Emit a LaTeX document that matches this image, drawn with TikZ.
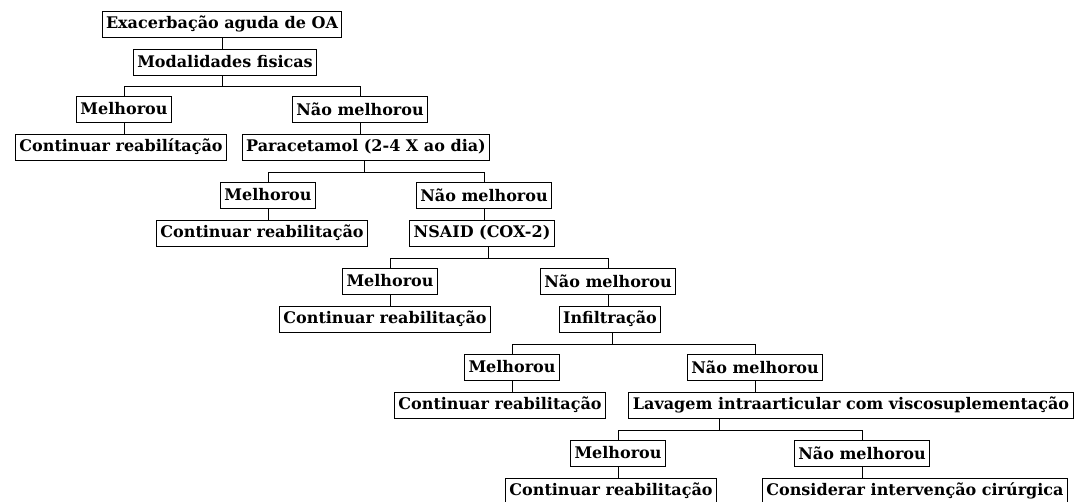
\documentclass[tikz,border=0pt]{standalone}
\usepackage{fontspec}
\setmainfont{DejaVu Serif}
\begin{document}
\begin{tikzpicture}[x=1pt,y=-1pt,line width=1pt]
  \tikzstyle{every node}=[draw,rectangle,inner xsep=4pt,inner ysep=0pt,
    minimum height=26pt,font=\fontsize{16}{18}\selectfont\bfseries]
  \useasboundingbox (0,0) rectangle (1075,501);
  \node (ex) at (222,24) {Exacerbação aguda de OA};
  \node (mod) at (225,62) {Modalidades fisicas};
  \node (m1) at (124,109) {Melhorou};
  \node (n1) at (360,109) {Não melhorou};
  \node (c1) at (121,147) {Continuar reabilítação};
  \node (para) at (366,147) {Paracetamol (2-4 X ao dia)};
  \node (m2) at (268,195) {Melhorou};
  \node (n2) at (484,195) {Não melhorou};
  \node (c2) at (262,233) {Continuar reabilitação};
  \node (nsaid) at (482,233) {NSAID (COX-2)};
  \node (m3) at (390,281) {Melhorou};
  \node (n3) at (608,281) {Não melhorou};
  \node (c3) at (385,319) {Continuar reabilitação};
  \node (inf) at (610,319) {Infiltração};
  \node (m4) at (512,367) {Melhorou};
  \node (n4) at (755,367) {Não melhorou};
  \node (c4) at (500,405) {Continuar reabilitação};
  \node (lav) at (851,405) {Lavagem intraarticular com viscosuplementação};
  \node (m5) at (618,453) {Melhorou};
  \node (n5) at (862,453) {Não melhorou};
  \node (c5) at (611,491) {Continuar reabilitação};
  \node (cons) at (915,491) {Considerar intervenção cirúrgica};
  \coordinate (j1) at (222,86);
  \coordinate (j2) at (364,172);
  \coordinate (j3) at (488,258);
  \coordinate (j4) at (612,344);
  \coordinate (j5) at (719,430);
  \draw (ex.south) -- (ex.south |- mod.north);
  \draw (mod.south -| j1) -- (j1);
  \draw (m1.north) -- (m1.north |- j1) -- (n1.north |- j1) -- (n1.north);
  \draw (m1.south) -- (m1.south |- c1.north);
  \draw (n1.south) -- (n1.south |- para.north);
  \draw (para.south -| j2) -- (j2);
  \draw (m2.north) -- (m2.north |- j2) -- (n2.north |- j2) -- (n2.north);
  \draw (m2.south) -- (m2.south |- c2.north);
  \draw (n2.south) -- (n2.south |- nsaid.north);
  \draw (nsaid.south -| j3) -- (j3);
  \draw (m3.north) -- (m3.north |- j3) -- (n3.north |- j3) -- (n3.north);
  \draw (m3.south) -- (m3.south |- c3.north);
  \draw (n3.south) -- (n3.south |- inf.north);
  \draw (inf.south -| j4) -- (j4);
  \draw (m4.north) -- (m4.north |- j4) -- (n4.north |- j4) -- (n4.north);
  \draw (m4.south) -- (m4.south |- c4.north);
  \draw (n4.south) -- (n4.south |- lav.north);
  \draw (lav.south -| j5) -- (j5);
  \draw (m5.north) -- (m5.north |- j5) -- (n5.north |- j5) -- (n5.north);
  \draw (m5.south) -- (m5.south |- c5.north);
  \draw (n5.south) -- (n5.south |- cons.north);
\end{tikzpicture}
\end{document}
